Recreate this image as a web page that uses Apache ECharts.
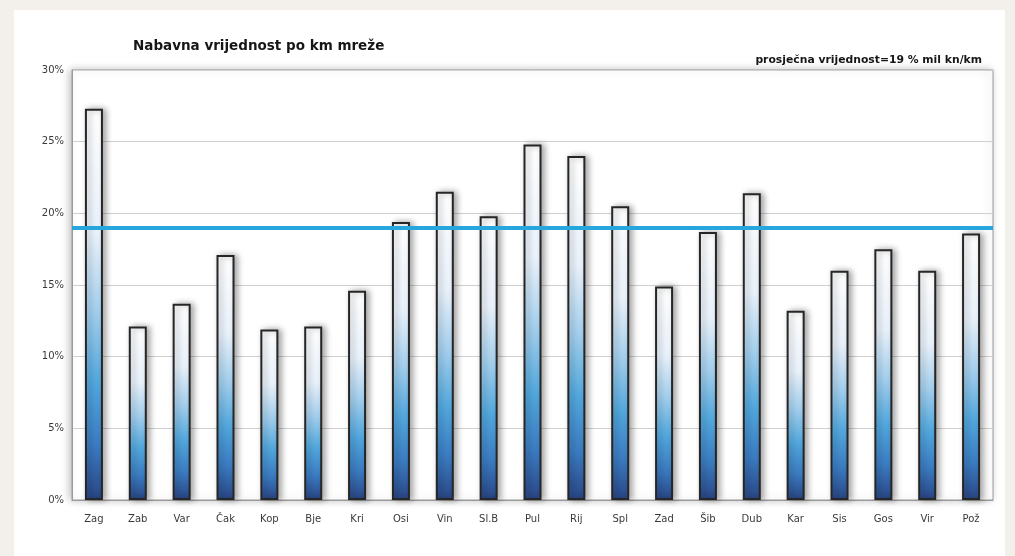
<!DOCTYPE html>
<html>
<head>
<meta charset="utf-8">
<script src="https://cdn.jsdelivr.net/npm/echarts@6/dist/echarts.min.js"></script>
<style>
html,body{margin:0;padding:0;background:#f3f0eb;}
#panel{position:absolute;left:14px;top:10px;width:991px;height:546px;background:#ffffff;}
#chart{position:absolute;left:0;top:0;width:1015px;height:556px;}
</style>
</head>
<body>
<div id="panel"></div>
<div id="chart"></div>
<script>
const categories = ['Zag','Zab','Var','Čak','Kop','Bje','Kri','Osi','Vin','Sl.B','Pul','Rij','Spl','Zad','Šib','Dub','Kar','Sis','Gos','Vir','Pož'];
const values = [27.3, 12.1, 13.7, 17.1, 11.9, 12.1, 14.6, 19.4, 21.5, 19.8, 24.8, 24.0, 20.5, 14.9, 18.7, 21.4, 13.2, 16.0, 17.5, 16.0, 18.6];
const averageValue = 19;
const yTicks = {min: 0, max: 30, interval: 5};
const titleText = 'Nabavna vrijednost po km mreže';
const noteText = 'prosječna vrijednost=19 % mil kn/km';

const chart = echarts.init(document.getElementById('chart'), null, {renderer: 'canvas'});
chart.setOption({
  backgroundColor: 'transparent',
  animation: false,
  title: [
    {text: titleText, left: 128, top: 34,
     textStyle: {fontFamily: 'DejaVu Sans', fontSize: 13.5, fontWeight: 'bold', color: '#161616'}},
    {text: noteText, right: 28, top: 50,
     textStyle: {fontFamily: 'DejaVu Sans', fontSize: 10.8, fontWeight: 'bold', color: '#161616'}}
  ],
  grid: {left: 72, right: 22, top: 70, bottom: 56, show: true, borderColor: '#9a9a9a', borderWidth: 1,
         backgroundColor: '#ffffff', shadowColor: 'rgba(0,0,0,0.25)', shadowBlur: 8, shadowOffsetX: -2},
  xAxis: {
    type: 'category', data: categories,
    axisLine: {lineStyle: {color: '#9a9a9a', width: 1}},
    axisTick: {show: false},
    axisLabel: {color: '#3a3a3a', fontSize: 10, fontFamily: 'DejaVu Sans', margin: 14}
  },
  yAxis: {
    type: 'value', min: yTicks.min, max: yTicks.max, interval: yTicks.interval,
    axisLine: {show: true, lineStyle: {color: '#9a9a9a'}},
    axisTick: {show: false},
    axisLabel: {formatter: '{value}%', color: '#3a3a3a', fontSize: 10, fontFamily: 'DejaVu Sans', margin: 8},
    splitLine: {lineStyle: {color: '#d0d0d0', width: 1}}
  },
  series: [{
    type: 'bar', data: values, barWidth: 18,
    itemStyle: {
      color: new echarts.graphic.LinearGradient(0, 0, 0, 1, [
        {offset: 0, color: '#ffffff'},
        {offset: 0.32, color: '#eaf2fb'},
        {offset: 0.52, color: '#a3cfee'},
        {offset: 0.7, color: '#52a8de'},
        {offset: 0.86, color: '#3b7cc2'},
        {offset: 1, color: '#2a4686'}
      ]),
      borderColor: '#262626', borderWidth: 2,
      shadowColor: 'rgba(0,0,0,0.35)', shadowBlur: 6, shadowOffsetX: 3, shadowOffsetY: 0
    },
    markLine: {
      silent: true, symbol: 'none', label: {show: false},
      lineStyle: {color: '#27a6de', width: 4, type: 'solid'},
      data: [{yAxis: averageValue}]
    }
  }]
});
</script>
</body>
</html>
